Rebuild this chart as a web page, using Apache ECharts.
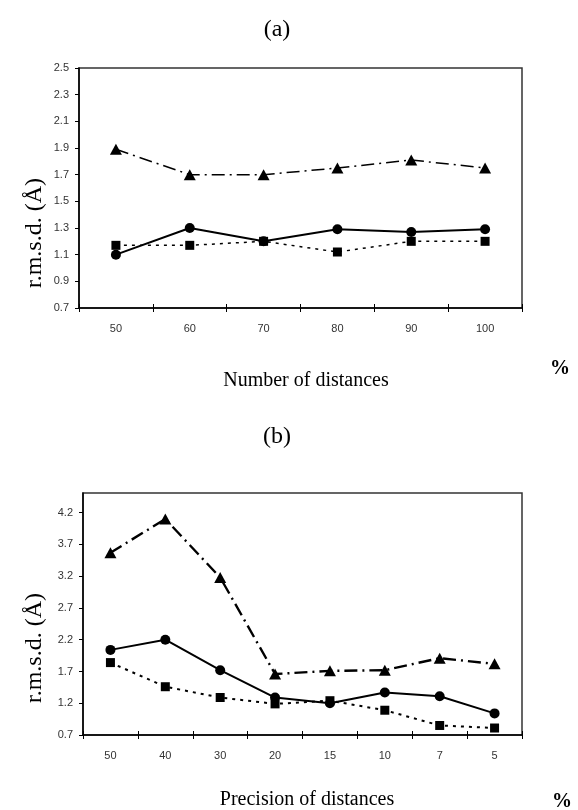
<!DOCTYPE html>
<html>
<head>
<meta charset="utf-8">
<script src="https://cdn.jsdelivr.net/npm/echarts@6/dist/echarts.min.js"></script>
<style>
  html, body { margin: 0; padding: 0; background: #fff; }
  #main { width: 578px; height: 810px; }
</style>
</head>
<body>
<div id="main"></div>
<script>
// panel (a): number of distances
var catsA = ['50', '60', '70', '80', '90', '100'];
var triA = [1.89, 1.70, 1.70, 1.75, 1.81, 1.75];
var circA = [1.10, 1.30, 1.20, 1.29, 1.27, 1.29];
var sqA = [1.17, 1.17, 1.20, 1.12, 1.20, 1.20];

// panel (b): precision of distances
var catsB = ['50', '40', '30', '20', '15', '10', '7', '5'];
var triB = [3.57, 4.10, 3.18, 1.66, 1.71, 1.72, 1.91, 1.82];
var circB = [2.04, 2.20, 1.72, 1.29, 1.20, 1.37, 1.31, 1.04];
var sqB = [1.84, 1.46, 1.29, 1.19, 1.24, 1.09, 0.85, 0.81];

var serif = '"Liberation Serif", "DejaVu Serif", serif';
var sans = '"Liberation Sans", Arial, sans-serif';

var myChart = echarts.init(document.getElementById('main'));

// category axis; inner = overlay copy that only draws inward ticks (cross ticks)
function catAxis(idx, cats, inner) {
    return {
        type: 'category',
        gridIndex: idx,
        position: 'bottom',
        data: cats,
        boundaryGap: true,
        axisLine: { show: !inner, lineStyle: { color: '#000', width: 1.5 } },
        axisTick: { show: true, inside: inner, length: 4, lineStyle: { color: '#000', width: 1 } },
        axisLabel: { show: !inner, margin: 15, color: '#333', fontFamily: sans, fontSize: 11 },
        splitLine: { show: false }
    };
}

function valAxis(idx, min, max, step) {
    return {
        type: 'value',
        gridIndex: idx,
        min: min,
        max: max,
        interval: step,
        axisLine: { show: true, lineStyle: { color: '#000', width: 1.5 } },
        axisTick: { show: true, length: 4, lineStyle: { color: '#000' } },
        axisLabel: {
            margin: 10, color: '#333', fontFamily: sans, fontSize: 11,
            showMaxLabel: max === 2.5,
            formatter: function (v) { return v.toFixed(1); }
        },
        splitLine: { show: false }
    };
}

function lines(idx, tri, circ, sq, thick) {
    var ax = idx * 2;
    return [{
        type: 'line', xAxisIndex: ax, yAxisIndex: idx, data: tri,
        symbol: 'triangle', symbolSize: [12, 11],
        itemStyle: { color: '#000' },
        lineStyle: { color: '#000', width: thick ? 2.4 : 1.5, type: [13, 5, 2, 5] }
    }, {
        type: 'line', xAxisIndex: ax, yAxisIndex: idx, data: circ,
        symbol: 'circle', symbolSize: 10,
        itemStyle: { color: '#000' },
        lineStyle: { color: '#000', width: 2 }
    }, {
        type: 'line', xAxisIndex: ax, yAxisIndex: idx, data: sq,
        symbol: 'rect', symbolSize: 9,
        itemStyle: { color: '#000' },
        lineStyle: { color: '#000', width: thick ? 2 : 1.5, type: [3, 5] }
    }];
}

function txt(x, y, s, font, rot) {
    return {
        type: 'text', x: x, y: y, rotation: rot || 0,
        style: {
            text: s, font: font, fill: '#000',
            align: 'center', verticalAlign: 'middle',
            textAlign: 'center', textVerticalAlign: 'middle'
        }
    };
}

var option = {
    animation: false,
    grid: [
        { left: 79, top: 68, width: 443, height: 240, show: true, borderColor: '#333', borderWidth: 1.5 },
        { left: 83, top: 493, width: 439, height: 242, show: true, borderColor: '#333', borderWidth: 1.5 }
    ],
    xAxis: [catAxis(0, catsA, false), catAxis(0, catsA, true), catAxis(1, catsB, false), catAxis(1, catsB, true)],
    yAxis: [valAxis(0, 0.7, 2.5, 0.2), valAxis(1, 0.7, 4.51, 0.5)],
    series: lines(0, triA, circA, sqA, false).concat(lines(1, triB, circB, sqB, true)),
    graphic: [
        txt(277, 30, '(a)', '24px ' + serif),
        txt(35, 233, 'r.m.s.d. (Å)', '24px ' + serif, Math.PI / 2),
        txt(306, 381, 'Number of distances', '20px ' + serif),
        txt(560, 369, '%', 'bold 20px ' + serif),
        txt(277, 437, '(b)', '24px ' + serif),
        txt(35, 648, 'r.m.s.d. (Å)', '24px ' + serif, Math.PI / 2),
        txt(307, 800, 'Precision of distances', '20px ' + serif),
        txt(562, 802, '%', 'bold 20px ' + serif)
    ]
};

myChart.setOption(option);
</script>
</body>
</html>
